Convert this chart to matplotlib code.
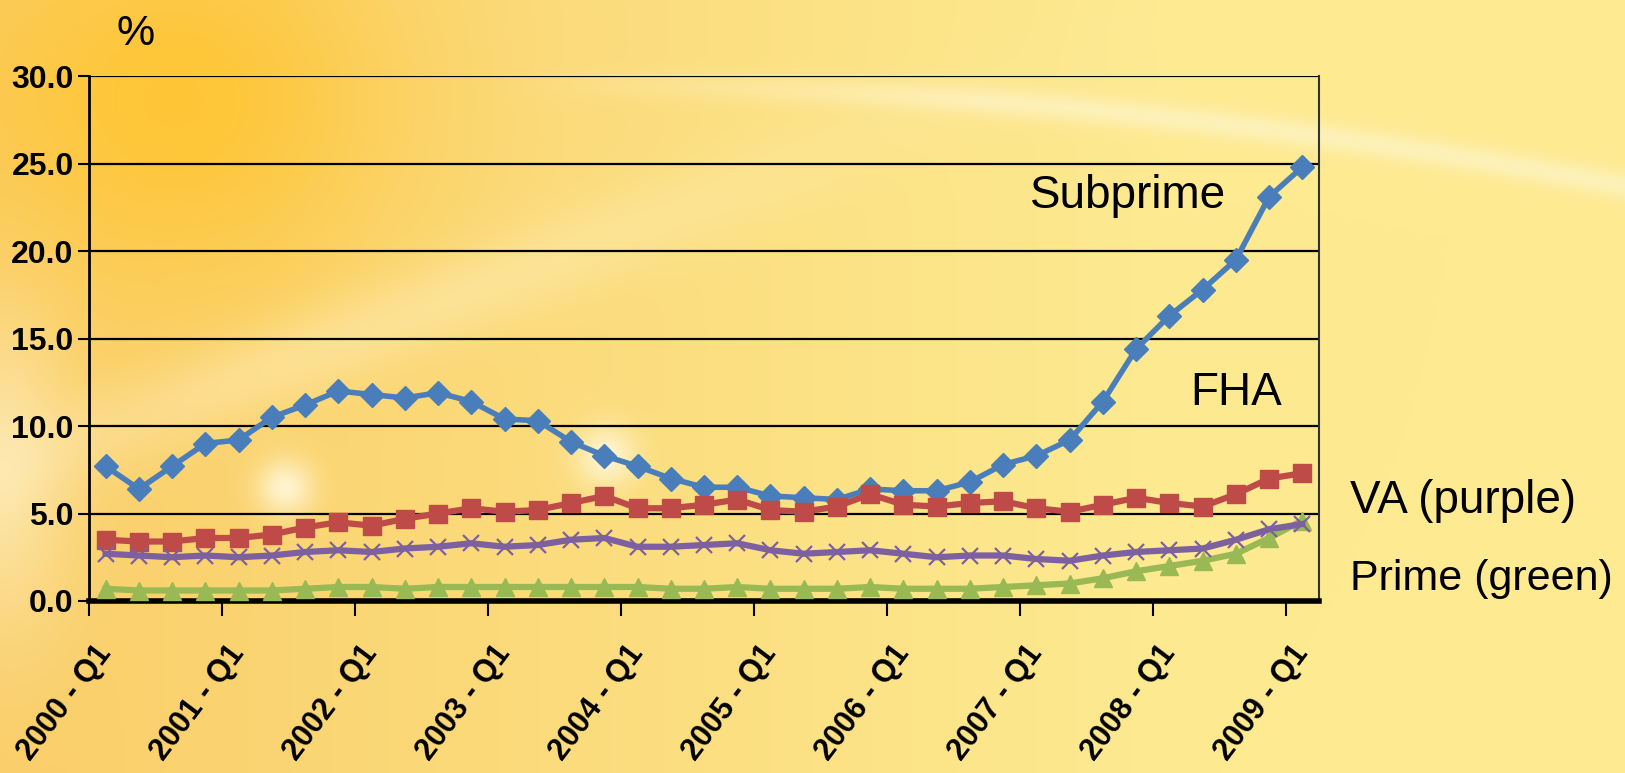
import numpy as np
import matplotlib
matplotlib.use("Agg")
import matplotlib.pyplot as plt
from matplotlib.ticker import FixedLocator, NullFormatter

# Delinquency rates by loan type, quarterly 2000 Q1 - 2009 Q1 (%)
years = [2000, 2001, 2002, 2003, 2004, 2005, 2006, 2007, 2008, 2009]
subprime = [7.7, 6.4, 7.7, 9.0, 9.2, 10.5, 11.2, 12.0, 11.8, 11.6, 11.9, 11.4, 10.4,
            10.3, 9.1, 8.3, 7.7, 7.0, 6.5, 6.5, 6.0, 5.9, 5.8, 6.4, 6.3, 6.3,
            6.8, 7.8, 8.3, 9.2, 11.4, 14.4, 16.3, 17.8, 19.5, 23.1, 24.8]
fha = [3.5, 3.4, 3.4, 3.6, 3.6, 3.8, 4.2, 4.5, 4.3, 4.7, 5.0, 5.3, 5.1,
       5.2, 5.6, 6.0, 5.3, 5.3, 5.5, 5.8, 5.2, 5.1, 5.4, 6.1, 5.5, 5.4,
       5.6, 5.7, 5.3, 5.1, 5.5, 5.9, 5.6, 5.4, 6.1, 7.0, 7.3]
va = [2.7, 2.6, 2.5, 2.6, 2.5, 2.6, 2.8, 2.9, 2.8, 3.0, 3.1, 3.3, 3.1,
      3.2, 3.5, 3.6, 3.1, 3.1, 3.2, 3.3, 2.9, 2.7, 2.8, 2.9, 2.7, 2.5,
      2.6, 2.6, 2.4, 2.3, 2.6, 2.8, 2.9, 3.0, 3.5, 4.1, 4.4]
prime = [0.7, 0.6, 0.6, 0.6, 0.6, 0.6, 0.7, 0.8, 0.8, 0.7, 0.8, 0.8, 0.8,
         0.8, 0.8, 0.8, 0.8, 0.7, 0.7, 0.8, 0.7, 0.7, 0.7, 0.8, 0.7, 0.7,
         0.7, 0.8, 0.9, 1.0, 1.3, 1.7, 2.0, 2.3, 2.7, 3.6, 4.6]
tick_labels = [f"{y} - Q1" for y in years]
y_ticks = [0, 5, 10, 15, 20, 25, 30]

W, H = 1625, 773
fig = plt.figure(figsize=(W / 100, H / 100), dpi=100)

# warm yellow background with a sun in the top-left
gx, gy = np.meshgrid(np.arange(W), np.arange(H))
t = gx / W
bg = np.zeros((H, W, 3))
left = np.array([250, 206, 105]) / 255
right = np.array([253, 234, 145]) / 255
for c in range(3):
    bg[..., c] = left[c] + (right[c] - left[c]) * np.clip(t * 1.4, 0, 1)
sun = np.exp(-(((gx - 175) / 210) ** 2 + ((gy - 100) / 190) ** 2))
sun_col = np.array([255, 196, 45]) / 255
bg = bg * (1 - sun[..., None] * 0.85) + sun_col * sun[..., None] * 0.85

def add_light(mask, k):
    global bg
    m = mask[..., None] * k
    bg = bg * (1 - m) + np.array([1.0, 0.97, 0.85]) * m

# pale left edge and soft diagonal rays
add_light(np.exp(-((gx / 70) ** 2)) * np.exp(-(((gy - 470) / 160) ** 2)), 0.55)
add_light(np.exp(-((gy - (470 - 0.38 * gx)) / 45) ** 2) * np.exp(-((gx - 350) / 450) ** 2), 0.35)
# curved white streak across the top right
arc = 95 + 0.00009 * (gx - 900) ** 2 + 0.06 * (gx - 900)
add_light(np.exp(-((gy - arc) / 14) ** 2) * np.clip((gx - 500) / 500, 0, 1), 0.55)
for cx, cy, r in [(285, 487, 28), (606, 456, 30)]:
    add_light(np.exp(-(((gx - cx) ** 2 + (gy - cy) ** 2) / r ** 2)), 0.9)

bax = fig.add_axes([0, 0, 1, 1], zorder=-5)
bax.imshow(np.clip(bg, 0, 1), aspect="auto", extent=[0, W, H, 0])
bax.axis("off")

ax = fig.add_axes([89 / W, 1 - 601 / H, 1230 / W, 525 / H])
ax.patch.set_alpha(0)
x = np.arange(len(subprime))

ax.plot(x, subprime, color="#4A7EBB", lw=4, marker="D", ms=12, zorder=5)
ax.plot(x, fha, color="#BE4B48", lw=4.5, marker="s", ms=13, zorder=5)
ax.plot(x, prime, color="#98B954", lw=4.5, marker="^", ms=13, zorder=5)
ax.plot(x, va, color="#7D60A0", lw=4.5, marker="x", ms=12, mew=1.6, zorder=6)

ax.set_xlim(-0.5, len(subprime) - 0.5)
ax.set_ylim(0, 30)
ax.set_yticks(y_ticks)
ax.set_yticklabels([f"{v:.1f}" for v in y_ticks])
ax.yaxis.grid(True, color="black", lw=1.6)
ax.set_axisbelow(True)

ax.xaxis.set_major_locator(FixedLocator(np.arange(-0.5, len(subprime) - 1, 4)))
ax.xaxis.set_major_formatter(NullFormatter())
ax.xaxis.set_minor_locator(FixedLocator(np.arange(0, len(subprime), 4)))
ax.set_xticklabels(tick_labels, minor=True)
ax.tick_params(axis="x", which="major", length=11, width=1.5, direction="out")
ax.tick_params(axis="x", which="minor", length=0, pad=34)
ax.tick_params(axis="y", length=8, width=1.5, pad=3)

lab_font = ["Liberation Sans Narrow", "Liberation Sans", "DejaVu Sans"]
for lab in ax.get_yticklabels():
    lab.set_fontfamily(lab_font)
    lab.set_fontweight("bold")
    lab.set_fontsize(23)
for lab in ax.get_xticklabels(minor=True):
    lab.set_fontfamily(lab_font)
    lab.set_fontweight("bold")
    lab.set_fontsize(22)
    lab.set_rotation(53)
    lab.set_rotation_mode("anchor")
    lab.set_ha("right")
    lab.set_va("center")

ax.spines["top"].set_visible(False)
ax.spines["left"].set_linewidth(2)
ax.spines["bottom"].set_linewidth(4)
ax.spines["right"].set_linewidth(1.5)
ax.spines["right"].set_color("#333333")

sans = ["Liberation Sans", "DejaVu Sans"]
fig.text(117 / W, 1 - 45 / H, "%", fontsize=31, family=sans, va="baseline")
fig.text(1030 / W, 1 - 208 / H, "Subprime", fontsize=33, family=sans, va="baseline")
fig.text(1190 / W, 1 - 405 / H, "FHA", fontsize=33, family=sans, va="baseline")
fig.text(1350 / W, 1 - 513 / H, "VA (purple)", fontsize=33, family=sans, va="baseline")
fig.text(1350 / W, 1 - 590 / H, "Prime (green)", fontsize=31, family=sans, va="baseline")

fig.savefig("out.png", dpi=100)
